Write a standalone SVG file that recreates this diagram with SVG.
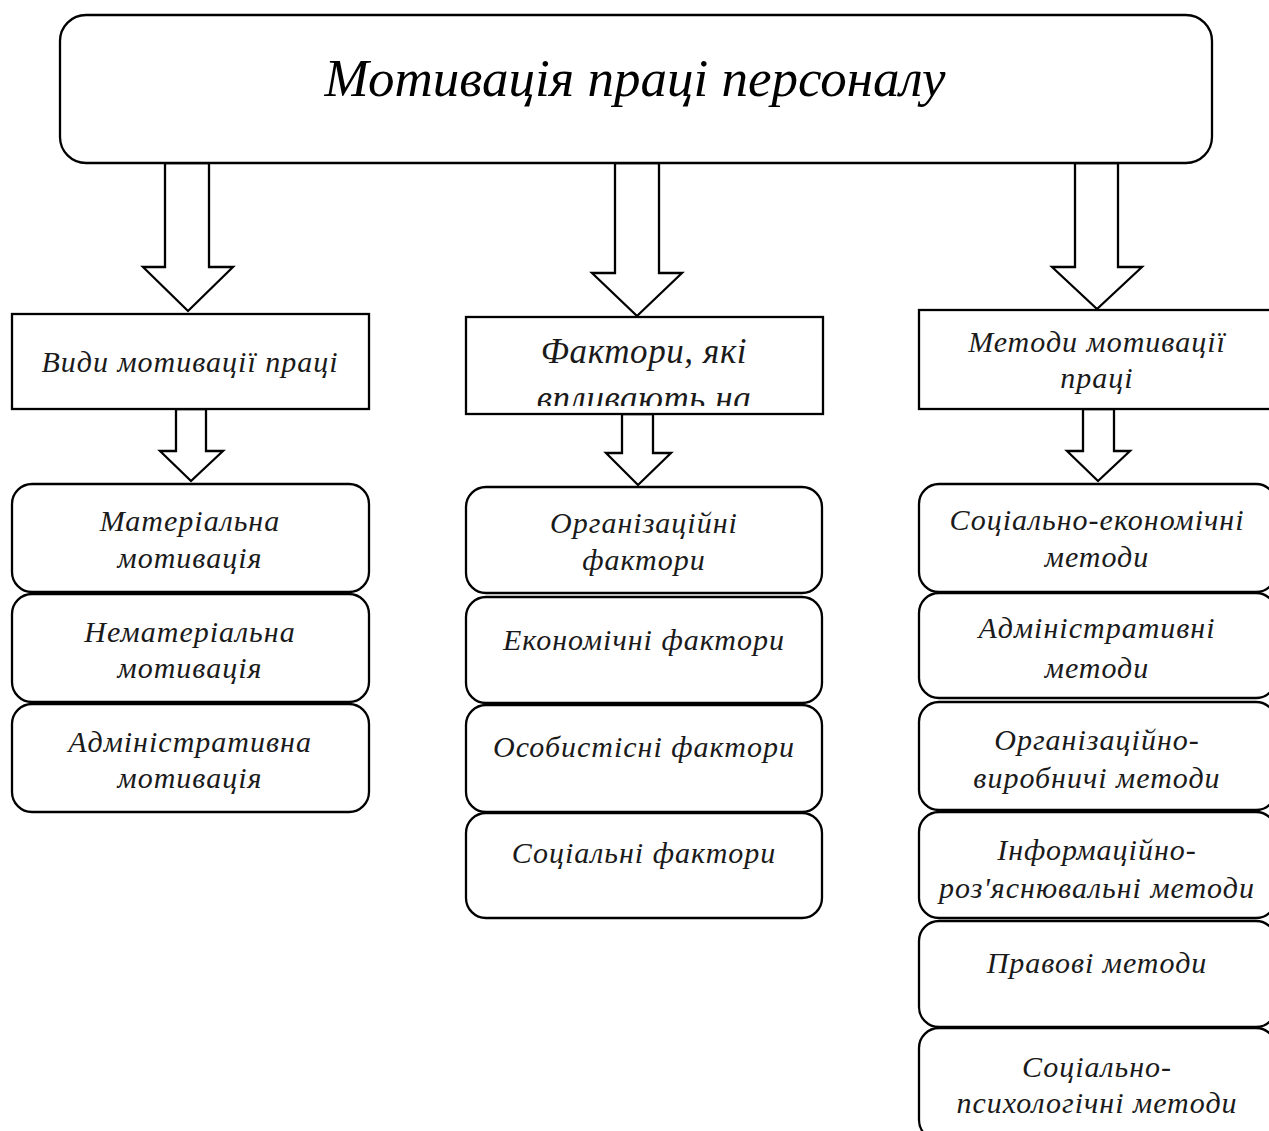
<svg xmlns="http://www.w3.org/2000/svg" width="1269" height="1131" viewBox="0 0 1269 1131">
<defs>
<style>
.box{fill:#fff;stroke:#000;stroke-width:2.3}
.arr{fill:#fff;stroke:#000;stroke-width:2.3;stroke-linejoin:miter}
text{font-family:"Liberation Serif","Times New Roman",serif;font-style:italic;fill:#1a1a1a;text-anchor:middle}
.t{font-size:30px;letter-spacing:1px}
.title{font-size:53px;fill:#000}
.big{font-size:35px;letter-spacing:0.6px}
</style>
<clipPath id="clipF"><rect x="466" y="317" width="357" height="89"/></clipPath>
</defs>
<rect width="1269" height="1131" fill="#fff"/>
<g id="connectors">
<polygon class="arr" points="165,163 209,163 209,267 233,267 188,311 143,267 165,267"/>
<polygon class="arr" points="615,163 659,163 659,273 682,273 637,316 592,273 615,273"/>
<polygon class="arr" points="1075,163 1118,163 1118,267 1142,267 1097,309 1052,267 1075,267"/>
<polygon class="arr" points="176,409 206,409 206,451 223,451 191,481 160,451 176,451"/>
<polygon class="arr" points="622,414 653,414 653,453 671,453 638,485 606,453 622,453"/>
<polygon class="arr" points="1083,409 1114,409 1114,451 1130,451 1098,481 1067,451 1083,451"/>
</g>
<g id="title">
<rect class="box" x="60" y="15" width="1152" height="148" rx="26"/>
<text class="title" x="635" y="96">Мотивація праці персоналу</text>
</g>
<g id="vydy">
<rect class="box" x="12" y="314" width="357" height="95"/>
<text class="t" x="190" y="372">Види мотивації праці</text>
</g>
<g id="faktory">
<rect class="box" x="466" y="317" width="357" height="97"/>
<g clip-path="url(#clipF)">
<text class="big" x="644" y="363">Фактори, які</text>
<text class="big" x="644" y="410">впливають на</text>
</g>
</g>
<g id="metody">
<rect class="box" x="919" y="310" width="357" height="99"/>
<text class="t" x="1097" y="352">Методи мотивації</text>
<text class="t" x="1097" y="388">праці</text>
</g>
<g id="l1"><rect class="box" x="12" y="484" width="357" height="108" rx="20"/>
<text class="t" x="190" y="531">Матеріальна</text><text class="t" x="190" y="568">мотивація</text></g>
<g id="l2"><rect class="box" x="12" y="594" width="357" height="108" rx="20"/>
<text class="t" x="190" y="642">Нематеріальна</text><text class="t" x="190" y="678">мотивація</text></g>
<g id="l3"><rect class="box" x="12" y="704" width="357" height="108" rx="20"/>
<text class="t" x="190" y="752">Адміністративна</text><text class="t" x="190" y="788">мотивація</text></g>
<g id="m1"><rect class="box" x="466" y="487" width="356" height="106" rx="20"/>
<text class="t" x="644" y="533">Організаційні</text><text class="t" x="644" y="570">фактори</text></g>
<g id="m2"><rect class="box" x="466" y="597" width="356" height="106" rx="20"/>
<text class="t" x="644" y="650">Економічні фактори</text></g>
<g id="m3"><rect class="box" x="466" y="705" width="356" height="107" rx="20"/>
<text class="t" x="644" y="757">Особистісні фактори</text></g>
<g id="m4"><rect class="box" x="466" y="813" width="356" height="105" rx="20"/>
<text class="t" x="644" y="863">Соціальні фактори</text></g>
<g id="r1"><rect class="box" x="919" y="484" width="357" height="108" rx="20"/>
<text class="t" x="1097" y="530">Соціально-економічні</text><text class="t" x="1097" y="567">методи</text></g>
<g id="r2"><rect class="box" x="919" y="593" width="357" height="105" rx="20"/>
<text class="t" x="1097" y="638">Адміністративні</text><text class="t" x="1097" y="678">методи</text></g>
<g id="r3"><rect class="box" x="919" y="702" width="357" height="108" rx="20"/>
<text class="t" x="1097" y="750">Організаційно-</text><text class="t" x="1097" y="788">виробничі методи</text></g>
<g id="r4"><rect class="box" x="919" y="812" width="357" height="106" rx="20"/>
<text class="t" x="1097" y="860">Інформаційно-</text><text class="t" x="1097" y="898">роз'яснювальні методи</text></g>
<g id="r5"><rect class="box" x="919" y="921" width="357" height="106" rx="20"/>
<text class="t" x="1097" y="973">Правові методи</text></g>
<g id="r6"><rect class="box" x="919" y="1028" width="357" height="112" rx="20"/>
<text class="t" x="1097" y="1077">Соціально-</text><text class="t" x="1097" y="1113">психологічні методи</text></g>
</svg>
